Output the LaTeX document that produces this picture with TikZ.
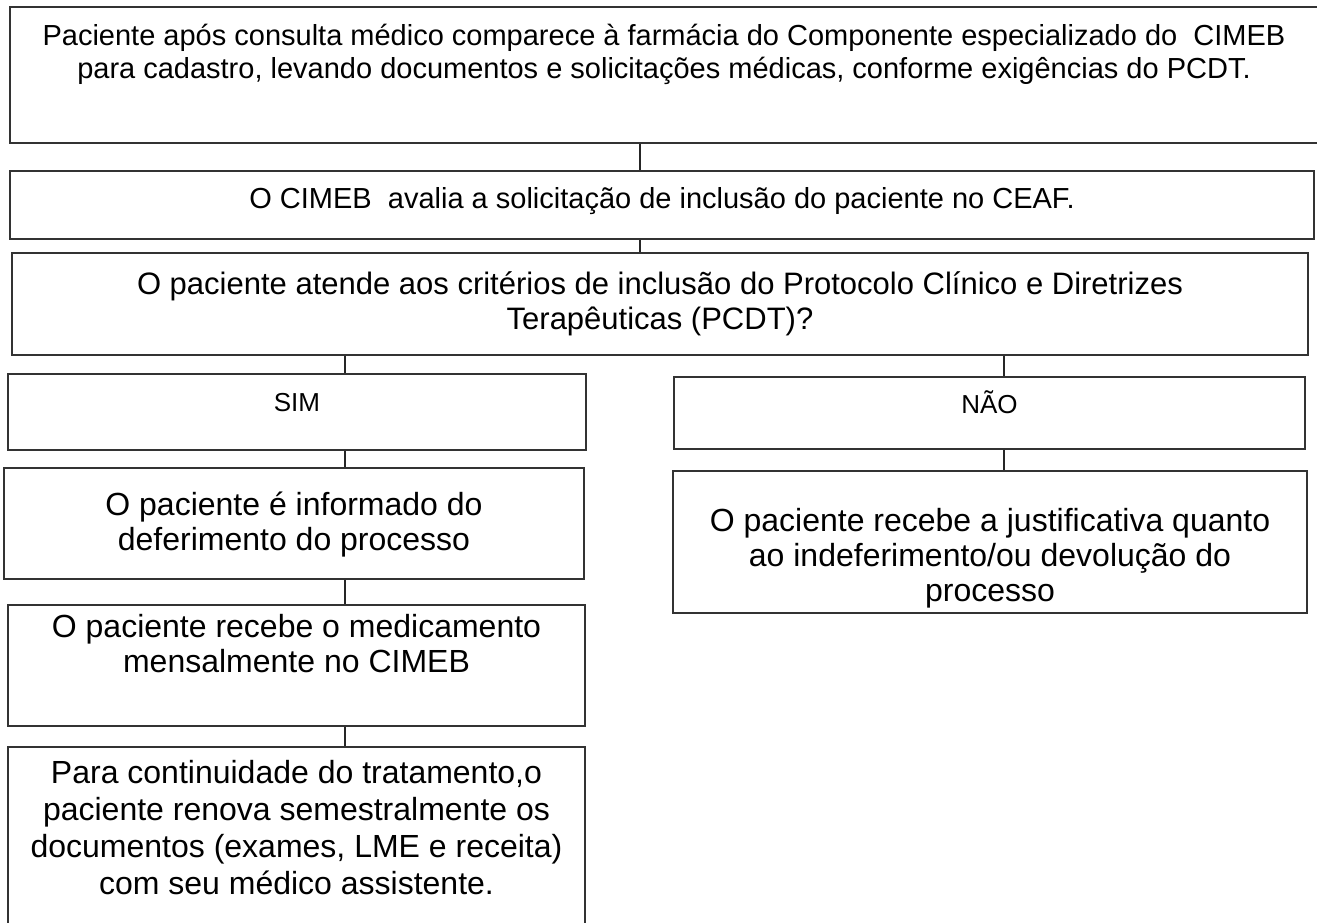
\documentclass[tikz,border=0pt]{standalone}
\usepackage{fontspec}
\setmainfont{Liberation Sans}

% caixa de texto: largura, altura, distancia ate a primeira linha base, texto
\newcommand{\caixa}[4]{\parbox[c][#2][t]{#1}{\centering\rule{0pt}{#3}#4}}

\tikzset{
  etapa/.style={draw=black!80, line width=1.2pt, inner sep=0pt, fill=white},
  liga/.style={draw=black!85, line width=1.4pt}
}

\begin{document}
\begin{tikzpicture}[x=1pt, y=-1pt]
   \useasboundingbox (0,0) rectangle (1317,922);
   % eixos dos conectores
   \coordinate (eixo) at (640,0);
   \coordinate (eixoesq) at (345,0);
   \coordinate (eixodir) at (1004,0);

   \node[etapa, font=\fontsize{29}{33}\selectfont] (cadastro) at (664,75)
     {\caixa{1308pt}{136pt}{38pt}{Paciente após consulta médico comparece à farmácia do Componente especializado do\ \ CIMEB\\ para cadastro, levando documentos e solicitações médicas, conforme exigências do PCDT.}};
   \node[etapa, font=\fontsize{29}{33}\selectfont] (avaliacao) at (662,205)
     {\caixa{1304pt}{68pt}{37pt}{O CIMEB\ \ avalia a solicitação de inclusão do paciente no CEAF.}};
   \node[etapa, font=\fontsize{31}{35}\selectfont] (criterios) at (660,304)
     {\caixa{1296pt}{102pt}{41pt}{O paciente atende aos critérios de inclusão do Protocolo Clínico e Diretrizes\\ Terapêuticas (PCDT)?}};

   \node[etapa, font=\fontsize{26}{30}\selectfont] (sim) at (297,412)
     {\caixa{578pt}{76pt}{37pt}{SIM}};
   \node[etapa, font=\fontsize{26}{30}\selectfont] (nao) at (989.5,413)
     {\caixa{631pt}{72pt}{36pt}{NÃO}};

   \node[etapa, font=\fontsize{32}{35}\selectfont] (informado) at (294,523.5)
     {\caixa{580pt}{111pt}{47pt}{O paciente é informado do\\ deferimento do processo}};
   \node[etapa, font=\fontsize{32}{35}\selectfont] (mensal) at (296.5,665.5)
     {\caixa{577pt}{121pt}{32pt}{O paciente recebe o medicamento\\ mensalmente no CIMEB}};
   \node[etapa, font=\fontsize{32}{37}\selectfont] (renova) at (296.5,842)
     {\caixa{577pt}{190pt}{36pt}{Para continuidade do tratamento,o\\ paciente renova semestralmente os\\ documentos (exames, LME e receita)\\ com seu médico assistente.}};

   \node[etapa, font=\fontsize{32}{35}\selectfont] (justifica) at (990,542)
     {\caixa{634pt}{142pt}{60pt}{O paciente recebe a justificativa quanto\\ ao indeferimento/ou devolução do\\ processo}};

   % conectores
   \draw[liga] (cadastro.south -| eixo) -- (avaliacao.north -| eixo);
   \draw[liga] (avaliacao.south -| eixo) -- (criterios.north -| eixo);
   \draw[liga] (criterios.south -| eixoesq) -- (sim.north -| eixoesq);
   \draw[liga] (criterios.south -| eixodir) -- (nao.north -| eixodir);
   \draw[liga] (sim.south -| eixoesq) -- (informado.north -| eixoesq);
   \draw[liga] (informado.south -| eixoesq) -- (mensal.north -| eixoesq);
   \draw[liga] (mensal.south -| eixoesq) -- (renova.north -| eixoesq);
   \draw[liga] (nao.south -| eixodir) -- (justifica.north -| eixodir);
\end{tikzpicture}
\end{document}
